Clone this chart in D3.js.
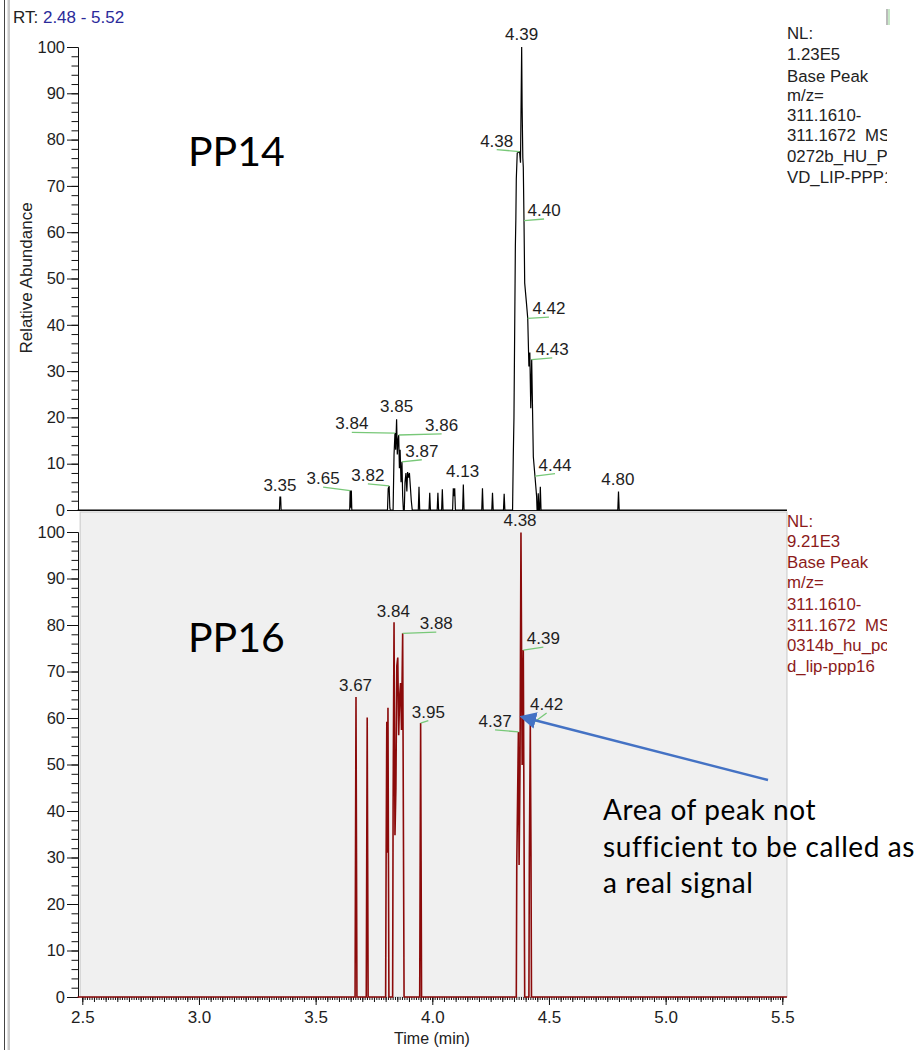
<!DOCTYPE html>
<html>
<head>
<meta charset="utf-8">
<script src="https://cdn.jsdelivr.net/npm/d3@7/dist/d3.min.js"></script>
<style>
  html, body { margin: 0; padding: 0; background: #fff; }
  svg { display: block; }
</style>
</head>
<body>
<svg id="chart" width="920" height="1050"></svg>
<script>
// ---------------- DATA ----------------
const rtRange = [2.48, 5.52];
const xTickLabels = [2.5, 3.0, 3.5, 4.0, 4.5, 5.0, 5.5];
const yTickLabels = [0, 10, 20, 30, 40, 50, 60, 70, 80, 90, 100];

// PP14 chromatogram: [retention time (min), relative abundance (%)]
const pp14Trace = [
  [2.48,0],
  [3.345,0],[3.347,2.8],[3.350,2.8],[3.352,0],
  [3.646,0],[3.648,4.2],[3.650,0.5],[3.653,4.2],[3.655,0],
  [3.808,0],[3.811,4.6],[3.815,5.2],[3.818,0.5],[3.820,0],
  [3.832,0],[3.836,12],[3.840,16.6],[3.843,13],[3.847,19.6],[3.850,12],[3.853,15],
  [3.856,16.2],[3.859,9],[3.862,13],[3.866,6],[3.870,10.4],[3.873,3],[3.876,0],
  [3.880,0],[3.883,6],[3.887,8],[3.891,4],[3.894,8.2],[3.898,7],[3.902,8],[3.906,5],[3.910,2],[3.914,0],
  [3.940,0],[3.943,5],[3.946,0],
  [3.986,0],[3.989,3.7],[3.992,0],
  [4.021,0],[4.024,3.7],[4.027,0],
  [4.040,0],[4.043,4.5],[4.046,0],
  [4.087,0],[4.090,4.7],[4.093,3],[4.096,4.7],[4.099,0],
  [4.130,0],[4.133,5.5],[4.136,0],
  [4.212,0],[4.215,4.7],[4.218,0],
  [4.255,0],[4.258,3.7],[4.261,0],
  [4.305,0],[4.308,3.5],[4.311,0],
  [4.344,0],[4.347,11.5],[4.350,20],[4.356,57],[4.358,62.6],[4.360,71.5],[4.364,77.1],
  [4.374,77.4],[4.378,75],[4.383,100],[4.385,87],[4.388,76],[4.390,74],[4.393,62.5],
  [4.396,49],[4.403,45],[4.409,41.4],[4.414,31],[4.418,34],[4.422,22],[4.426,32.5],
  [4.433,11.5],[4.440,7.3],[4.447,3],[4.449,0],
  [4.452,0],[4.454,3.6],[4.457,0],[4.460,0],[4.463,5],[4.466,0],
  [4.795,0],[4.798,4],[4.801,0],
  [5.52,0]
];

// PP16 chromatogram
const pp16Trace = [
  [2.48,0],
  [3.669,0],[3.671,32.2],[3.673,64.5],[3.675,32],[3.677,0],
  [3.717,0],[3.719,30],[3.721,60.1],[3.723,30],[3.725,0],
  [3.800,0],[3.802,28.2],[3.805,59.2],[3.808,31],[3.810,62.2],[3.812,31],[3.814,0],
  [3.830,0],[3.832,40.4],[3.836,80.6],[3.840,34.8],[3.844,45],[3.848,71.2],[3.852,73],
  [3.856,56.3],[3.860,64.6],[3.864,67.5],[3.868,57.4],[3.873,78.2],[3.876,38.8],[3.879,0],
  [3.946,0],[3.948,29.3],[3.950,58.9],[3.952,29.3],[3.954,0],
  [4.360,0],[4.362,28.4],[4.369,57],[4.372,28.4],[4.376,49.9],[4.380,99.9],[4.385,49.9],
  [4.390,74.6],[4.393,37.4],[4.396,0],
  [4.414,0],[4.416,30.2],[4.420,58.5],[4.423,30.2],[4.425,0],
  [5.52,0]
];

// peak labels: [text, peak RT, peak abundance, label RT, label abundance, leader line]
const pp14Labels = [
  ["3.35",3.347,2.8,3.347,4.1,false],
  ["3.65",3.648,4.2,3.532,5.6,true],
  ["3.82",3.815,5.2,3.724,6.3,true],
  ["3.84",3.840,16.6,3.655,17.4,true],
  ["3.85",3.847,19.6,3.847,21.2,false],
  ["3.86",3.856,16.2,4.040,17.1,true],
  ["3.87",3.870,10.4,3.955,11.5,true],
  ["4.13",4.133,5.5,4.130,7.2,false],
  ["4.38",4.374,77.4,4.276,78.5,true],
  ["4.39",4.383,100,4.383,101.5,false],
  ["4.40",4.393,62.5,4.479,63.5,true],
  ["4.42",4.409,41.4,4.500,42.3,true],
  ["4.43",4.426,32.5,4.514,33.5,true],
  ["4.44",4.440,7.3,4.526,8.5,true],
  ["4.80",4.798,4,4.795,5.4,false]
];
const pp16Labels = [
  ["3.67",3.673,64.5,3.671,65.8,false],
  ["3.84",3.836,80.6,3.833,81.8,false],
  ["3.88",3.873,78.2,4.017,79.1,true],
  ["3.95",3.950,58.9,3.983,60.1,true],
  ["4.38",4.380,99.9,4.376,101.3,false],
  ["4.39",4.390,74.6,4.476,75.9,true],
  ["4.42",4.420,58.5,4.490,61.7,true],
  ["4.37",4.369,57,4.269,58.1,true]
];

const pp14Info = ["NL:", "1.23E5", "Base Peak", "m/z=", "311.1610-", "311.1672  MS", "0272b_HU_P", "VD_LIP-PPP1"];
const pp16Info = ["NL:", "9.21E3", "Base Peak", "m/z=", "311.1610-", "311.1672  MS", "0314b_hu_pc", "d_lip-ppp16"];
const sampleNames = ["PP14", "PP16"];
const noteLines = ["Area of peak not", "sufficient to be called as", "a real signal"];

// ---------------- DRAWING ----------------
const svg = d3.select("#chart");
const AX = "'Liberation Sans', Arial, sans-serif";
const CAL = "Lato, 'Open Sans', sans-serif";

const x = d3.scaleLinear().domain([2.5, 5.5]).range([82.3, 782.3]);
const yTop = d3.scaleLinear().domain([0, 100]).range([510, 47]);
const yBot = d3.scaleLinear().domain([0, 100]).range([997, 532]);

// outer frame on the left
svg.append("rect").attr("x", 0).attr("y", 0).attr("width", 920).attr("height", 1050).attr("fill", "#fff");
svg.append("line").attr("x1", 4.5).attr("x2", 4.5).attr("y1", 0).attr("y2", 1050).attr("stroke", "#444").attr("stroke-width", 1);
svg.append("rect").attr("x", 7.5).attr("y", 0).attr("width", 2.5).attr("height", 1050).attr("fill", "#c8c8c8");
svg.append("rect").attr("x", 886).attr("y", 9).attr("width", 2).attr("height", 16).attr("fill", "#bbb");
svg.append("line").attr("x1", 889).attr("x2", 889).attr("y1", 9).attr("y2", 25).attr("stroke", "#8fd08f");

// RT header
const rt = svg.append("text").attr("x", 13).attr("y", 23).attr("font-family", AX).attr("font-size", 17);
rt.append("tspan").attr("fill", "#222").text("RT: ");
rt.append("tspan").attr("fill", "#2a2a9a").text(rtRange[0].toFixed(2) + " - " + rtRange[1].toFixed(2));

// bottom panel background
svg.append("rect").attr("x", x(rtRange[0]) + 2.5).attr("y", 512).attr("width", x(rtRange[1]) - x(rtRange[0]) - 2.5)
  .attr("height", 997 - 512).attr("fill", "#f0f0f0").attr("stroke", "#c8c8c8").attr("stroke-width", 1);

function yAxis(scale) {
  const g = svg.append("g").attr("transform", "translate(78,0)");
  g.append("g").call(d3.axisLeft(scale).tickValues(d3.range(0, 101, 2)).tickSize(6.5).tickSizeOuter(0).tickFormat(""));
  g.append("g").call(d3.axisLeft(scale).tickValues(yTickLabels).tickSize(11).tickSizeOuter(0).tickPadding(2).tickFormat(d3.format("d")));
  g.selectAll("path.domain").attr("stroke", "#111");
  g.selectAll("line").attr("stroke", "#111");
  g.selectAll("text").attr("font-family", AX).attr("font-size", 16.5).attr("fill", "#1e1e1e");
}
yAxis(yTop);
yAxis(yBot);

// top panel baseline
svg.append("line").attr("x1", 78).attr("x2", x(rtRange[1])).attr("y1", 510.5).attr("y2", 510.5).attr("stroke", "#111");

// x axis
const xg = svg.append("g").attr("transform", "translate(0,997)");
xg.append("g").call(d3.axisBottom(x).tickValues(d3.range(250, 551, 1).map(d => d / 100)).tickSize(3).tickSizeOuter(0).tickFormat(""));
xg.append("g").call(d3.axisBottom(x).tickValues(d3.range(50, 111, 1).map(d => d / 20)).tickSize(5).tickSizeOuter(0).tickFormat(""));
xg.append("g").call(d3.axisBottom(x).tickValues(xTickLabels).tickSize(8).tickSizeOuter(0).tickPadding(6).tickFormat(d3.format(".1f")));
xg.selectAll("path.domain").remove();
xg.selectAll("line").attr("stroke", "#111");
xg.selectAll("text").attr("font-family", AX).attr("font-size", 17).attr("fill", "#1e1e1e");

// axis titles
svg.append("text").attr("transform", "translate(32,278) rotate(-90)").attr("text-anchor", "middle")
  .attr("font-family", AX).attr("font-size", 17).attr("fill", "#222").text("Relative Abundance");
svg.append("text").attr("x", 432).attr("y", 1044).attr("text-anchor", "middle")
  .attr("font-family", AX).attr("font-size", 16).attr("fill", "#222").text("Time (min)");

// traces
const lineTop = d3.line().x(d => x(d[0])).y(d => yTop(d[1]));
const lineBot = d3.line().x(d => x(d[0])).y(d => yBot(d[1]));
svg.append("path").datum(pp14Trace).attr("d", lineTop).attr("fill", "none").attr("stroke", "#000").attr("stroke-width", 1.2);
svg.append("path").datum(pp16Trace).attr("d", lineBot).attr("fill", "none").attr("stroke", "#8b0a0a").attr("stroke-width", 1.6);

// peak labels
function peakLabels(labels, yScale) {
  const g = svg.append("g");
  labels.forEach(l => {
    const [txt, pt, pv, lt, lv, leader] = l;
    if (leader) {
      g.append("line").attr("x1", x(pt)).attr("y1", yScale(pv)).attr("x2", x(lt)).attr("y2", yScale(lv) + 3)
        .attr("stroke", "#78c878").attr("stroke-width", 1.3);
    }
    g.append("text").attr("x", x(lt)).attr("y", yScale(lv)).attr("text-anchor", "middle")
      .attr("font-family", AX).attr("font-size", 17).attr("fill", "#1e1e1e").text(txt);
  });
}
peakLabels(pp14Labels, yTop);
peakLabels(pp16Labels, yBot);

// info text on the right
svg.append("clipPath").attr("id", "infoClip").append("rect").attr("x", 780).attr("y", 0).attr("width", 107).attr("height", 1050);
const topBase = [39, 60, 82, 101, 121, 141, 162, 183];
const botBase = [527, 547, 568, 588, 610, 631, 651, 672];
const infoTop = svg.append("g").attr("clip-path", "url(#infoClip)");
pp14Info.forEach((t, i) => infoTop.append("text").attr("x", 787).attr("y", topBase[i]).attr("font-family", AX)
  .attr("font-size", 16.8).attr("fill", "#222").style("white-space", "pre").text(t));
const infoBot = svg.append("g").attr("clip-path", "url(#infoClip)");
pp16Info.forEach((t, i) => infoBot.append("text").attr("x", 787).attr("y", botBase[i]).attr("font-family", AX)
  .attr("font-size", 16.8).attr("fill", "#8b1a1a").style("white-space", "pre").text(t));

// sample names
svg.append("text").attr("x", 188).attr("y", 166).attr("font-family", CAL).attr("font-size", 41).attr("fill", "#000").text(sampleNames[0]);
svg.append("text").attr("x", 188).attr("y", 652).attr("font-family", CAL).attr("font-size", 41).attr("fill", "#000").text(sampleNames[1]);

// arrow annotation
const defs = svg.append("defs");
defs.append("marker").attr("id", "arrowHead").attr("viewBox", "0 0 10 10").attr("refX", 1).attr("refY", 5)
  .attr("markerWidth", 7).attr("markerHeight", 7).attr("orient", "auto-start-reverse")
  .append("path").attr("d", "M0,0 L10,5 L0,10 z").attr("fill", "#4472c4");
svg.append("line").attr("x1", 768).attr("y1", 780).attr("x2", 534).attr("y2", 720)
  .attr("stroke", "#4472c4").attr("stroke-width", 2.4).attr("marker-end", "url(#arrowHead)");
const noteBase = [820, 856.5, 893];
noteLines.forEach((t, i) => svg.append("text").attr("x", 603).attr("y", noteBase[i]).attr("font-family", CAL)
  .attr("font-size", 28).attr("letter-spacing", 0.6).attr("fill", "#000").text(t));
</script>
</body>
</html>
